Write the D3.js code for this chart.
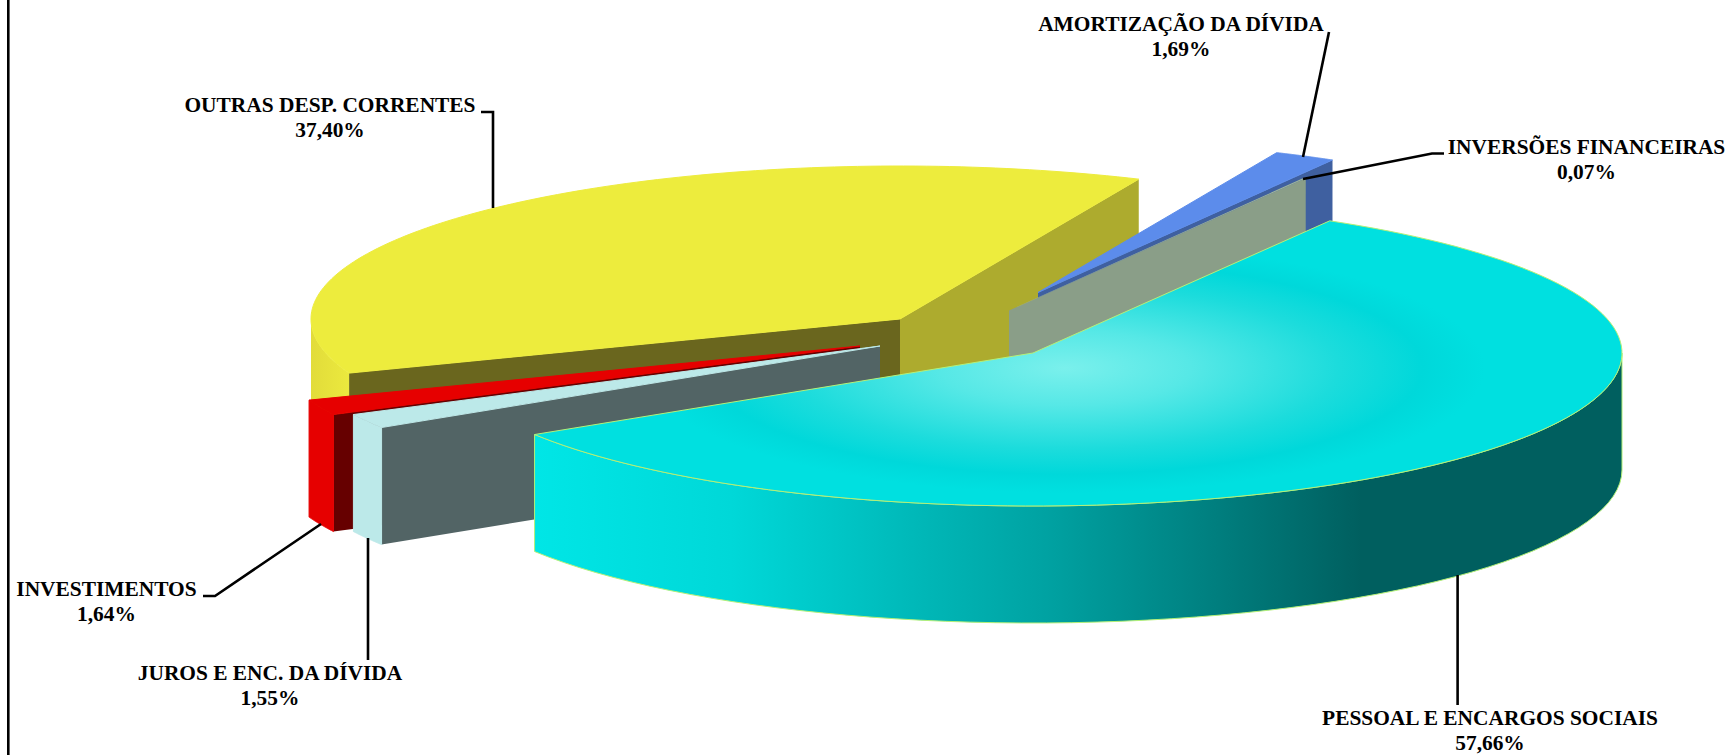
<!DOCTYPE html>
<html>
<head>
<meta charset="utf-8">
<script src="https://cdn.jsdelivr.net/npm/d3@7"></script>
<style>
  html, body { margin: 0; padding: 0; background: #fff; overflow: hidden; }
  text { font-family: "Liberation Serif", serif; font-weight: bold; font-size: 21.4px; fill: #000; text-anchor: middle; }
</style>
</head>
<body>
<div id="chart"></div>
<script>
// data (clockwise, starting at the right of the cyan slice)
const categories = ['PESSOAL E ENCARGOS SOCIAIS', 'JUROS E ENC. DA DÍVIDA', 'INVESTIMENTOS', 'OUTRAS DESP. CORRENTES', 'AMORTIZAÇÃO DA DÍVIDA', 'INVERSÕES FINANCEIRAS'];
const values = [57.66, 1.55, 1.64, 37.40, 1.69, 0.07];
const valueLabels = ['57,66%', '1,55%', '1,64%', '37,40%', '1,69%', '0,07%'];

// pie geometry
const width = 1730, height = 755;
const rx = 589, ry = 153, depth = 117;
const cx = 965, cy = 336;
const startDeg = 30.25;

// how far each slice is pulled out of the pie, px
const explode = [[68, 17], [-85, 10], [-105, 10], [-65, -17], [73, -43.5], [44, -25.5]];

// colours per slice: top, start wall, end wall, outer wall, edge
const topColors = ['url(#cyan-top)', '#bce9e9', '#e60000', '#edec3d', '#5c8ceb', '#9fb59b'];
const startWallColors = ['#005f5f', '#526465', '#660000', '#6a661e', '#3f60a0', '#8a9e88'];
const endWallColors = ['#005f5f', '#526465', '#660000', '#adab2e', '#3f60a0', '#8a9e88'];
const outerWallColors = ['url(#cyan-wall)', '#bce9e9', '#e60000', 'url(#yellow-wall)', '#3f60a0', '#8a9e88'];
const edgeColors = ['#b4f078', '#bce9e9', '#e60000', '#edec3d', '#5c8ceb', 'none'];
const wallEdgeColors = ['#b4f078', '#bce9e9', '#e60000', 'none', 'none', 'none'];

// draw order, back to front
const drawOrder = [3, 4, 5, 2, 1, 0];

// label layout: centre x, baseline y of first line, leader polyline
const labelX = [1490, 270, 106.5, 330, 1181, 1586.5];
const labelY = [725, 680, 596, 112, 31, 154];
const leaders = [
  [[1457.6, 575], [1457.6, 705]],
  [[368, 538], [368, 660]],
  [[203, 596], [215, 596], [321, 524]],
  [[481, 112], [493, 112], [493, 208]],
  [[1329, 32], [1303, 157]],
  [[1444, 153.5], [1432, 153.5], [1303, 179]]
];

const svg = d3.select('#chart').append('svg')
    .attr('width', width)
    .attr('height', height);

svg.append('rect')
    .attr('width', width)
    .attr('height', height)
    .attr('fill', 'white');

// gradients
const defs = svg.append('defs');

const addStops = (grad, stops) => stops.forEach(s =>
  grad.append('stop').attr('offset', s[0]).attr('stop-color', s[1]));

addStops(defs.append('linearGradient')
    .attr('id', 'cyan-wall')
    .attr('gradientUnits', 'userSpaceOnUse')
    .attr('x1', 536).attr('y1', 0)
    .attr('x2', 1622).attr('y2', 0),
  [[0, '#00e6e6'], [0.18, '#00d8d8'], [0.33, '#00bcbc'], [0.47, '#00a2a2'], [0.62, '#008080'], [0.76, '#005f5f'], [1, '#005f5f']]);

addStops(defs.append('linearGradient')
    .attr('id', 'yellow-wall')
    .attr('gradientUnits', 'userSpaceOnUse')
    .attr('x1', 311).attr('y1', 0)
    .attr('x2', 349).attr('y2', 0),
  [[0, '#e2dc3a'], [1, '#ebe93e']]);

addStops(defs.append('radialGradient')
    .attr('id', 'cyan-top')
    .attr('gradientUnits', 'userSpaceOnUse')
    .attr('cx', 0).attr('cy', 0).attr('r', 1)
    .attr('gradientTransform', 'translate(1065,368) scale(420,125)'),
  [[0, '#7af0ec'], [0.3, '#56e8e6'], [0.65, '#1cdcdc'], [0.85, '#00d8da'], [1, '#00e0e0']]);

// left border of the frame
svg.append('line')
    .attr('x1', 8.3).attr('x2', 8.3)
    .attr('y1', 0).attr('y2', height)
    .attr('stroke', '#000')
    .attr('stroke-width', 2.6);

const rad = d => d * Math.PI / 180;

const pie = d3.pie()
    .sort(null)
    .startAngle(rad(startDeg))
    .endAngle(rad(startDeg + 360));

const slices = pie(values);

const line = d3.line();

// point on the rim of a slice, angle clockwise from 12 o'clock
const rimPoint = (i, a, drop) => [
  cx + explode[i][0] + rx * Math.sin(a),
  cy + explode[i][1] - ry * Math.cos(a) + drop
];

const sweep = (a0, a1, n) => d3.range(0, n + 1).map(k => a0 + (a1 - a0) * k / n);

const topFace = (i, a0, a1) => {
  const c = [cx + explode[i][0], cy + explode[i][1]];
  return line([c].concat(sweep(a0, a1, 120).map(a => rimPoint(i, a, 0)))) + 'Z';
};

const radialWall = (i, a) => {
  const c = [cx + explode[i][0], cy + explode[i][1]];
  const p = rimPoint(i, a, 0);
  return line([c, p, [p[0], p[1] + depth], [c[0], c[1] + depth]]) + 'Z';
};

// the outer wall only shows between 90 and 270 degrees
const outerWall = (i, a0, a1) => {
  const from = Math.max(a0, Math.PI / 2), to = Math.min(a1, Math.PI * 1.5);
  if (from >= to) return null;
  const steps = sweep(from, to, 60);
  const upper = steps.map(a => rimPoint(i, a, 0));
  const lower = steps.slice().reverse().map(a => rimPoint(i, a, depth));
  return line(upper.concat(lower)) + 'Z';
};

const pieG = svg.append('g').attr('class', 'pie');

drawOrder.forEach(i => {
  const d = slices[i];
  const g = pieG.append('g').attr('class', 'slice');
  const a0 = d.startAngle, a1 = d.endAngle;

  if (Math.sin(a0) < 0) {
    g.append('path').attr('d', radialWall(i, a0)).attr('fill', startWallColors[i]);
  }
  if (Math.sin(a1) > 0) {
    g.append('path').attr('d', radialWall(i, a1)).attr('fill', endWallColors[i]);
  }

  const wall = outerWall(i, a0, a1);
  if (wall) {
    g.append('path')
        .attr('d', wall)
        .attr('fill', outerWallColors[i])
        .attr('stroke', wallEdgeColors[i])
        .attr('stroke-width', 1);
  }

  g.append('path')
      .attr('d', topFace(i, a0, a1))
      .attr('fill', topColors[i])
      .attr('stroke', edgeColors[i])
      .attr('stroke-width', 1);
});

// leader lines and labels
svg.append('g').selectAll('path')
  .data(leaders)
  .enter().append('path')
    .attr('d', d => line(d))
    .attr('fill', 'none')
    .attr('stroke', '#000')
    .attr('stroke-width', 2.6);

const labels = svg.append('g').selectAll('text')
  .data(categories)
  .enter().append('text')
    .attr('x', (d, i) => labelX[i])
    .attr('y', (d, i) => labelY[i]);

labels.append('tspan').text(d => d);
labels.append('tspan')
    .attr('x', (d, i) => labelX[i])
    .attr('dy', 24.5)
    .text((d, i) => valueLabels[i]);
</script>
</body>
</html>
